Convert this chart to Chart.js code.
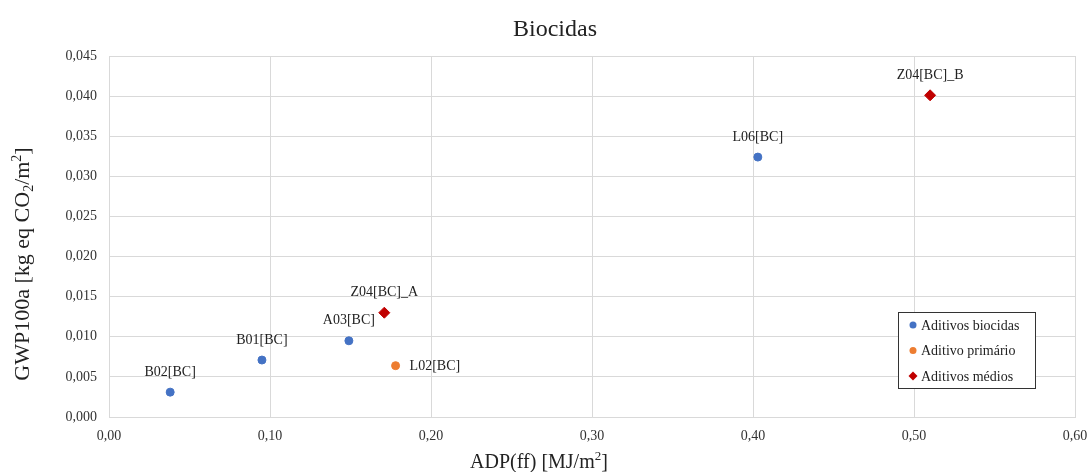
<!DOCTYPE html>
<html>
<head>
<meta charset="utf-8">
<script src="https://cdn.jsdelivr.net/npm/chart.js@4/dist/chart.umd.min.js"></script>
<style>
  html, body { margin: 0; padding: 0; background: #fff; }
  #wrap { width: 1091px; height: 472px; }
</style>
</head>
<body>
<div id="wrap"><canvas id="chart" width="1091" height="472"></canvas></div>
<script>
const SERIES_NAMES = ['Aditivos biocidas', 'Aditivo primário', 'Aditivos médios'];
const SERIES_COLORS = ['#4472C4', '#ED7D31', '#C00000'];

const biocidasNames = ['B02[BC]', 'B01[BC]', 'A03[BC]', 'L06[BC]'];
const biocidasAdp = [0.038, 0.095, 0.149, 0.403];
const biocidasGwp = [0.0031, 0.0071, 0.0095, 0.0324];

const primarioNames = ['L02[BC]'];
const primarioAdp = [0.178];
const primarioGwp = [0.0064];

const mediosNames = ['Z04[BC]_A', 'Z04[BC]_B'];
const mediosAdp = [0.171, 0.510];
const mediosGwp = [0.0130, 0.0401];

const xTicks = [0, 0.1, 0.2, 0.3, 0.4, 0.5, 0.6];
const yTicks = [0, 0.005, 0.01, 0.015, 0.02, 0.025, 0.03, 0.035, 0.04, 0.045];

const TITLE = 'Biocidas';
// axis titles split into runs so the 2 can sit as sub/superscript
const X_TITLE = [['ADP(ff) [MJ/m', 0], ['2', -1], [']', 0]];
const Y_TITLE = [['GWP100a [kg eq CO', 0], ['2', 1], ['/m', 0], ['2', -1], [']', 0]];

const FONT = '"Liberation Serif", "DejaVu Serif", serif';
const TEXT = '#222';

function points(xs, ys, names) {
    return xs.map((x, i) => ({ x, y: ys[i], name: names[i] }));
}

// draws runs of text centred on (0,0) of the current transform
function drawRuns(ctx, runs, size) {
    const small = Math.round(size * 0.65);
    const widths = runs.map(([t, s]) => {
        ctx.font = (s ? small : size) + 'px ' + FONT;
        return ctx.measureText(t).width;
    });
    let x = -widths.reduce((a, b) => a + b, 0) / 2;
    ctx.textAlign = 'left';
    ctx.textBaseline = 'alphabetic';
    runs.forEach(([t, s], i) => {
        ctx.font = (s ? small : size) + 'px ' + FONT;
        const dy = s < 0 ? -size * 0.38 : s > 0 ? size * 0.18 : 0;
        ctx.fillText(t, x, size * 0.33 + dy);
        x += widths[i];
    });
}

const outerTitles = {
    id: 'outerTitles',
    afterDraw(chart) {
        const ctx = chart.ctx;
        ctx.save();
        ctx.fillStyle = TEXT;
        ctx.font = '24px ' + FONT;
        ctx.textAlign = 'center';
        ctx.textBaseline = 'middle';
        ctx.fillText(TITLE, 555, 30);

        ctx.save();
        ctx.translate(539, 461);
        drawRuns(ctx, X_TITLE, 20);
        ctx.restore();

        ctx.save();
        ctx.translate(22, 264);
        ctx.rotate(-Math.PI / 2);
        drawRuns(ctx, Y_TITLE, 22);
        ctx.restore();
        ctx.restore();
    }
};

// labels placed above each point, L02 to the right
const pointLabels = {
    id: 'pointLabels',
    afterDatasetsDraw(chart) {
        const ctx = chart.ctx;
        ctx.save();
        ctx.font = '14px ' + FONT;
        ctx.fillStyle = TEXT;
        chart.data.datasets.forEach((ds, di) => {
            const meta = chart.getDatasetMeta(di);
            meta.data.forEach((el, i) => {
                const p = ds.data[i];
                if (p.name === 'L02[BC]') {
                    ctx.textAlign = 'left';
                    ctx.textBaseline = 'middle';
                    ctx.fillText(p.name, el.x + 14, el.y + 1);
                } else {
                    ctx.textAlign = 'center';
                    ctx.textBaseline = 'middle';
                    ctx.fillText(p.name, el.x, el.y - 20);
                }
            });
        });
        ctx.restore();
    }
};

// boxed legend inside the plot area, lower right
const boxLegend = {
    id: 'boxLegend',
    afterDraw(chart) {
        const ctx = chart.ctx;
        const area = chart.chartArea;
        const w = 137, h = 76;
        const left = area.right - 177, top = area.bottom - 105;
        ctx.save();
        ctx.fillStyle = '#fff';
        ctx.fillRect(left, top, w, h);
        ctx.strokeStyle = '#333';
        ctx.lineWidth = 1;
        ctx.strokeRect(left + 0.5, top + 0.5, w, h);
        ctx.font = '14px ' + FONT;
        ctx.textAlign = 'left';
        ctx.textBaseline = 'middle';
        chart.data.datasets.forEach((ds, i) => {
            const cy = top + 13 + i * 25.5;
            const cx = left + 15;
            ctx.fillStyle = ds.backgroundColor;
            ctx.beginPath();
            if (ds.pointStyle === 'rectRot') {
                ctx.moveTo(cx, cy - 4.5);
                ctx.lineTo(cx + 4.5, cy);
                ctx.lineTo(cx, cy + 4.5);
                ctx.lineTo(cx - 4.5, cy);
                ctx.closePath();
            } else {
                ctx.arc(cx, cy, 3.5, 0, Math.PI * 2);
            }
            ctx.fill();
            ctx.fillStyle = TEXT;
            ctx.fillText(ds.label, cx + 8, cy + 1);
        });
        ctx.restore();
    }
};

new Chart(document.getElementById('chart'), {
    type: 'scatter',
    data: {
        datasets: [
            { label: SERIES_NAMES[0], data: points(biocidasAdp, biocidasGwp, biocidasNames), backgroundColor: SERIES_COLORS[0], borderColor: SERIES_COLORS[0], pointRadius: 4, pointStyle: 'circle' },
            { label: SERIES_NAMES[1], data: points(primarioAdp, primarioGwp, primarioNames), backgroundColor: SERIES_COLORS[1], borderColor: SERIES_COLORS[1], pointRadius: 4, pointStyle: 'circle' },
            { label: SERIES_NAMES[2], data: points(mediosAdp, mediosGwp, mediosNames), backgroundColor: SERIES_COLORS[2], borderColor: SERIES_COLORS[2], pointRadius: 5.5, pointStyle: 'rectRot' },
        ],
    },
    options: {
        responsive: false,
        animation: false,
        layout: { padding: { left: 0, right: 16, top: 56, bottom: 0 } },
        plugins: {
            legend: { display: false },
            tooltip: { enabled: false },
            title: { display: false },
        },
        scales: {
            x: {
                type: 'linear',
                min: 0,
                max: 0.6,
                afterBuildTicks: (scale) => { scale.ticks = xTicks.map((v) => ({ value: v })); },
                afterFit: (scale) => { scale.height = 55; scale.paddingRight = 4; },
                grid: { color: '#d9d9d9', drawTicks: false },
                border: { color: '#d9d9d9' },
                ticks: {
                    color: '#333',
                    padding: 11,
                    font: { family: FONT, size: 14 },
                    callback: (v) => v.toFixed(2).replace('.', ','),
                },
            },
            y: {
                type: 'linear',
                min: 0,
                max: 0.045,
                afterBuildTicks: (scale) => { scale.ticks = yTicks.map((v) => ({ value: v })); },
                afterFit: (scale) => { scale.width = 109; },
                grid: { color: '#d9d9d9', drawTicks: false },
                border: { color: '#d9d9d9' },
                ticks: {
                    color: '#333',
                    padding: 12,
                    font: { family: FONT, size: 14 },
                    callback: (v) => v.toFixed(3).replace('.', ','),
                },
            },
        },
    },
    plugins: [pointLabels, boxLegend, outerTitles],
});
</script>
</body>
</html>
